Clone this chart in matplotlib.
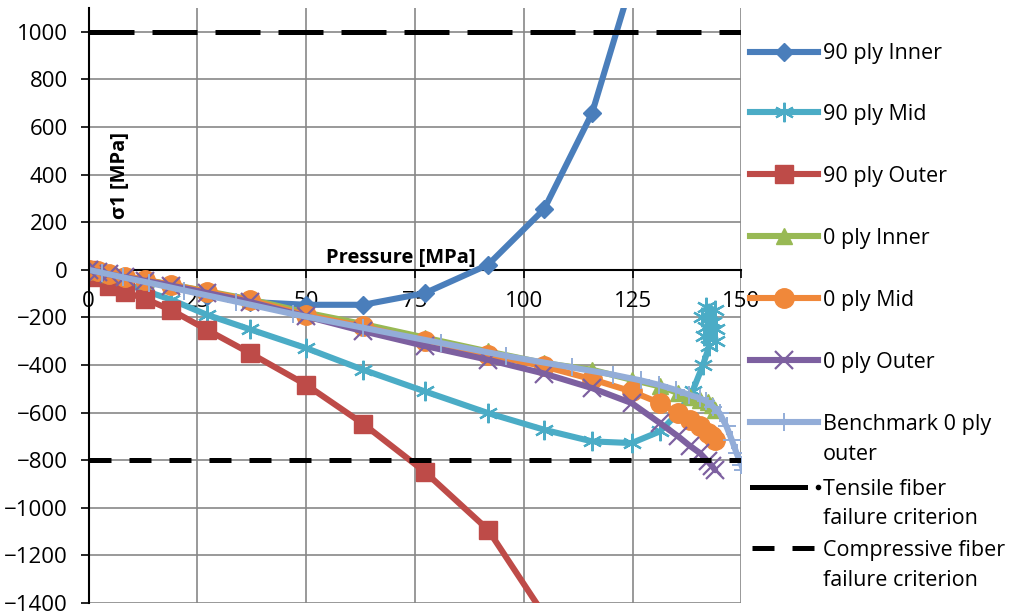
import matplotlib
matplotlib.use("Agg")
import matplotlib.pyplot as plt
from matplotlib.lines import Line2D

plt.rcParams['font.family'] = ['Open Sans', 'DejaVu Sans']

# pressure steps [MPa]
p_ply = [0, 2.2, 4.8, 8.5, 13, 18.9, 27.2, 37.1, 50, 63.1, 77.3, 91.8, 104.7, 115.7, 124.8]
p_zero = p_ply + [131.3, 135.5, 138.2, 140.5, 142.3, 143.3, 144.0]
p_mid90 = p_ply + [131.3, 135.5, 138.8, 141.2, 142.6, 141.5, 144.3, 141.0, 143.9,
                   142.0, 143.5, 141.8, 144.2, 142.6]
p_bench = [0, 3, 8, 14, 22, 34, 47, 63, 81, 96, 111, 120.6, 127, 131, 135, 138, 140.5,
           142, 143.5, 145, 146.6, 147.8, 148.9, 150, 150.4]

# sigma1 [MPa]
inner90 = [0, -8, -18, -32, -48, -68, -108, -135, -147, -147, -98, 21, 255, 658, 1210]
mid90 = [0, -14, -32, -58, -88, -125, -189, -250, -329, -420, -511, -602, -672, -721, -728,
         -679, -602, -510, -400, -322, -280, -250, -200, -170, -155, -220, -240, -300, -180]
outer90 = [0, -30, -66, -94, -122, -168, -252, -350, -483, -647, -849, -1092, -1450]
inner0 = [0, -7, -16, -28, -42, -62, -90, -124, -180, -228, -285, -343, -392, -420, -462,
          -490, -518, -535, -548, -556, -570, -588]
mid0 = [0, -7, -17, -30, -44, -62, -92, -128, -190, -238, -301, -357, -406, -460, -511,
        -560, -602, -630, -658, -685, -700, -714]
outer0 = [0, -8, -19, -32, -46, -66, -97, -135, -196, -258, -320, -378, -436, -497, -560,
          -644, -700, -740, -770, -805, -825, -842]
bench = [0, -12, -32, -55, -87, -134, -186, -243, -308, -362, -410, -441, -465, -483, -505,
         -525, -540, -553, -575, -602, -658, -714, -770, -819, -840]

crit_x = [0, 150]
tensile = [1000, 1000]
compressive = [-800, -800]

W, H = 1021, 615
fig = plt.figure(figsize=(W / 100, H / 100), dpi=100)
ax = fig.add_axes([88.5 / W, 12 / H, 652.8 / W, 595 / H])

series = [
    (p_ply[:len(inner90)], inner90, '90 ply Inner', '#4A7EBB', 'D', 9.5, 1),
    (p_mid90, mid90, '90 ply Mid', '#4BACC6', (6, 2, 0), 14, 1.6),
    (p_ply[:len(outer90)], outer90, '90 ply Outer', '#BE4B48', 's', 13, 1),
    (p_zero, inner0, '0 ply Inner', '#98B954', '^', 11, 1),
    (p_zero, mid0, '0 ply Mid', '#F0883A', 'o', 14, 1),
    (p_zero, outer0, '0 ply Outer', '#7D60A0', 'x', 13, 1.6),
    (p_bench, bench, 'Benchmark 0 ply\nouter', '#93ADD8', '+', 13, 1.4),
]

for x, y, lab, c, m, ms, mew in series:
    ax.plot(x, y, color=c, lw=4.4, marker=m, ms=ms, mew=mew, mfc=c, mec=c,
            solid_joinstyle='round', solid_capstyle='round')

ax.plot(crit_x, tensile, color='black', lw=3.6, dashes=(9, 3.6), dash_capstyle='butt')
ax.plot(crit_x, compressive, color='black', lw=3.6, dashes=(4.4, 3.6), dash_capstyle='butt')

ax.set_xlim(0, 150)
ax.set_ylim(-1400, 1100)
ax.set_xticks(range(0, 151, 25))
ax.set_yticks(range(-1400, 1001, 200))
ax.grid(True, color='#878787', lw=1.2)
ax.set_axisbelow(True)

for s in ['top', 'right']:
    ax.spines[s].set_visible(False)
ax.spines['bottom'].set_position(('data', 0))
ax.spines['left'].set_linewidth(1.5)
ax.spines['bottom'].set_linewidth(1.5)
ax.spines['bottom'].set_zorder(1.5)
ax.tick_params(axis='both', direction='out', length=6, width=1.2, labelsize=16)
ax.tick_params(axis='y', pad=9)
ax.tick_params(axis='x', pad=9.5)

ax.text(54.6, 29.4, 'Pressure [MPa]', fontsize=14.5, fontweight='bold',
        ha='left', va='baseline')
ax.text(8.4, 397, 'σ1 [MPa]', fontsize=14.5, fontweight='bold', rotation=90,
        rotation_mode='anchor', ha='center', va='baseline')

# legend, drawn by hand so rows can sit like the Excel one
def fx(px):
    return px / W

def fy(py):
    return 1 - py / H

rows = [51.7, 112, 174, 236, 298, 360, 422, 487, 548]
for (x, y, lab, c, m, ms, mew), ry in zip(series, rows):
    fig.add_artist(Line2D([fx(750), fx(818)], [fy(ry)] * 2, color=c, lw=4.4))
    fig.add_artist(Line2D([fx(784)], [fy(ry)], color=c, marker=m, ms=ms, mew=mew,
                          mfc=c, mec=c, lw=0))

fig.add_artist(Line2D([fx(752), fx(805)], [fy(rows[7])] * 2, color='black', lw=3.6))
fig.add_artist(Line2D([fx(818)], [fy(rows[7])], color='black', marker='o', ms=3, lw=0))
fig.add_artist(Line2D([fx(752), fx(818)], [fy(rows[8])] * 2, color='black', lw=3.6,
                      dashes=(4.4, 3.6), dash_capstyle='butt'))

labels = ['90 ply Inner', '90 ply Mid', '90 ply Outer', '0 ply Inner', '0 ply Mid',
          '0 ply Outer', 'Benchmark 0 ply', 'outer', 'Tensile fiber', 'failure criterion',
          'Compressive fiber', 'failure criterion']
label_rows = [51.7, 112, 174, 236, 298, 360, 422, 452, 487, 516, 548, 578]
for t, ry in zip(labels, label_rows):
    fig.text(fx(823), fy(ry + 7.7), t, fontsize=15.5, ha='left', va='baseline')

fig.savefig('out.png', dpi=100)
